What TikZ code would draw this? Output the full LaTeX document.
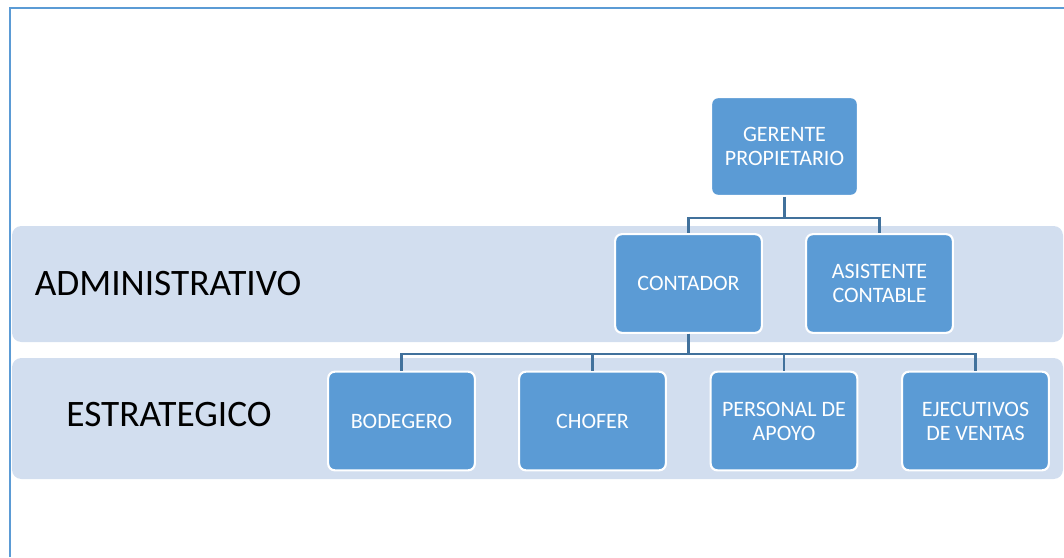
\documentclass[tikz,border=0pt]{standalone}
\usepackage{fontspec}
\setmainfont{Carlito}
\usepackage{xcolor}
\usepackage{tikz}

\definecolor{boxblue}{HTML}{5B9BD5}
\definecolor{linkblue}{HTML}{41719C}
\definecolor{bandblue}{HTML}{D2DEEF}

\begin{document}
\begin{tikzpicture}[x=0.75pt, y=-0.75pt,
    box/.style={rectangle, rounded corners=5pt, fill=boxblue, draw=white,
      line width=1.6pt, minimum width=110pt, minimum height=74pt,
      text=white, align=center, font=\fontsize{16.5}{18}\selectfont},
    band/.style={fill=bandblue, rounded corners=7pt},
    level/.style={font=\fontsize{28}{32}\selectfont},
    link/.style={draw=linkblue, line width=1.6pt}]
    \useasboundingbox (0,0) rectangle (1064,557);

    % frame
    \draw[boxblue, line width=1.6pt] (10,557) -- (10,8) -- (1064,8);

    % levels
    \fill[band] (12,226) rectangle (1063,342);
    \fill[band] (12,358) rectangle (1063,479);
    \node[level] (adm) at (168,284) {ADMINISTRATIVO};
    \node[level] (est) at (169,415) {ESTRATEGICO};

    % top
    \node[box] (ger) at (784.5,146.5) {GERENTE\\PROPIETARIO};

    % administrativo
    \node[box] (cont) at (688.5,283.5) {CONTADOR};
    \node[box] (asis) at (879.5,283.5) {ASISTENTE\\CONTABLE};

    % estrategico
    \node[box] (bod) at (401.5,421) {BODEGERO};
    \node[box] (cho) at (592.5,421) {CHOFER};
    \node[box] (per) at (784,421) {PERSONAL DE\\APOYO};
    \node[box] (eje) at (975.5,421) {EJECUTIVOS\\DE VENTAS};

    % links
    \foreach \n in {cont,asis}
      \draw[link] (ger.south) -- ++(0,21) -| (\n.north);
    \foreach \n in {bod,cho,per,eje}
      \draw[link] (cont.south) -- ++(0,20) -| (\n.north);
  \end{tikzpicture}
\end{document}
